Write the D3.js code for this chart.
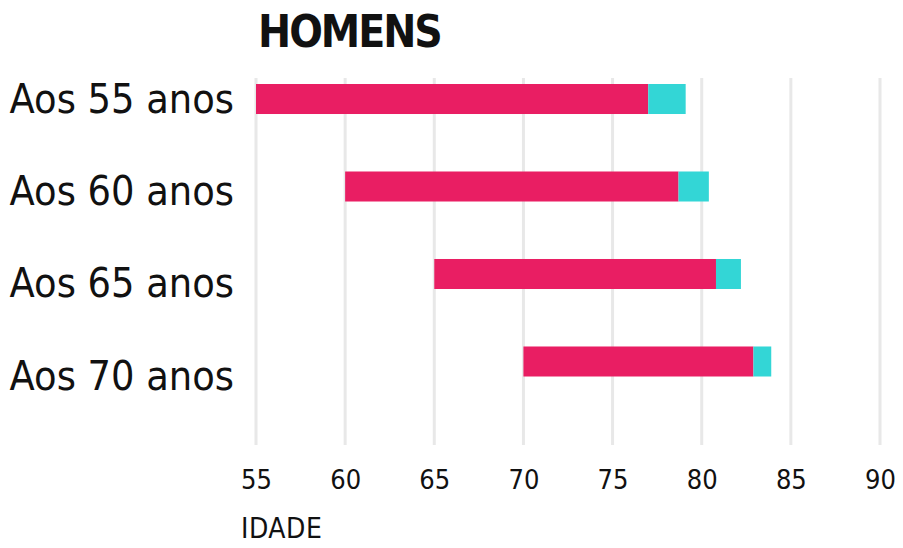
<!DOCTYPE html>
<html>
<head>
<meta charset="utf-8">
<script src="https://cdn.jsdelivr.net/npm/d3@7"></script>
<style>
  body { margin: 0; background: #fff; }
  svg { display: block; }
</style>
</head>
<body>
<svg width="903" height="548"></svg>
<script>
// data
var categories = ["Aos 55 anos", "Aos 60 anos", "Aos 65 anos", "Aos 70 anos"];
var startAge = [55, 60, 65, 70];
var redEnd = [77.0, 78.7, 80.8, 82.9];
var cyanEnd = [79.1, 80.4, 82.2, 83.9];
var tickValues = [55, 60, 65, 70, 75, 80, 85, 90];

var cond = "'DejaVu Sans Condensed', 'DejaVu Sans', sans-serif";

var svg = d3.select("svg");

var x = d3.scaleLinear().domain([55, 90]).range([256, 880]);
var y = d3.scaleBand().domain(categories).range([84, 376.5]).paddingInner(0.657).paddingOuter(0);
var yLabel = d3.scalePoint().domain(categories).range([98, 375]);

// grid lines
svg.append("g")
    .selectAll("line")
    .data(tickValues)
    .enter().append("line")
    .attr("x1", function (d) { return x(d); })
    .attr("x2", function (d) { return x(d); })
    .attr("y1", 78)
    .attr("y2", 445)
    .attr("stroke", "#e8e8e8")
    .attr("stroke-width", 3);

var rows = categories.map(function (c, i) {
    return { cat: c, start: startAge[i], red: redEnd[i], cyan: cyanEnd[i] };
});

// red segment
svg.append("g")
    .selectAll("rect")
    .data(rows)
    .enter().append("rect")
    .attr("x", function (d) { return x(d.start); })
    .attr("y", function (d) { return y(d.cat); })
    .attr("width", function (d) { return x(d.red) - x(d.start); })
    .attr("height", y.bandwidth())
    .attr("fill", "#e91e63");

// cyan segment
svg.append("g")
    .selectAll("rect")
    .data(rows)
    .enter().append("rect")
    .attr("x", function (d) { return x(d.red); })
    .attr("y", function (d) { return y(d.cat); })
    .attr("width", function (d) { return x(d.cyan) - x(d.red); })
    .attr("height", y.bandwidth())
    .attr("fill", "#33d6d6");

// category labels
svg.append("g")
    .selectAll("text")
    .data(categories)
    .enter().append("text")
    .attr("x", 234)
    .attr("y", function (d) { return yLabel(d); })
    .attr("dy", "0.36em")
    .attr("text-anchor", "end")
    .attr("font-family", cond)
    .attr("font-size", 41)
    .attr("fill", "#111")
    .text(function (d) { return d; });

// x axis
var xAxis = svg.append("g")
    .attr("transform", "translate(0,470)")
    .call(d3.axisBottom(x).tickValues(tickValues).tickSize(0).tickPadding(0));
xAxis.select(".domain").remove();
xAxis.selectAll("text")
    .attr("font-family", cond)
    .attr("font-size", 27)
    .attr("fill", "#111")
    .attr("dy", "0.71em");

svg.append("text")
    .attr("x", 241)
    .attr("y", 538)
    .attr("font-family", cond)
    .attr("font-size", 28)
    .attr("letter-spacing", 0.5)
    .attr("fill", "#111")
    .text("IDADE");

svg.append("text")
    .attr("x", 258)
    .attr("y", 47)
    .attr("font-family", cond)
    .attr("font-weight", "bold")
    .attr("font-size", 44)
    .attr("letter-spacing", -2)
    .attr("fill", "#111")
    .text("HOMENS");
</script>
</body>
</html>
